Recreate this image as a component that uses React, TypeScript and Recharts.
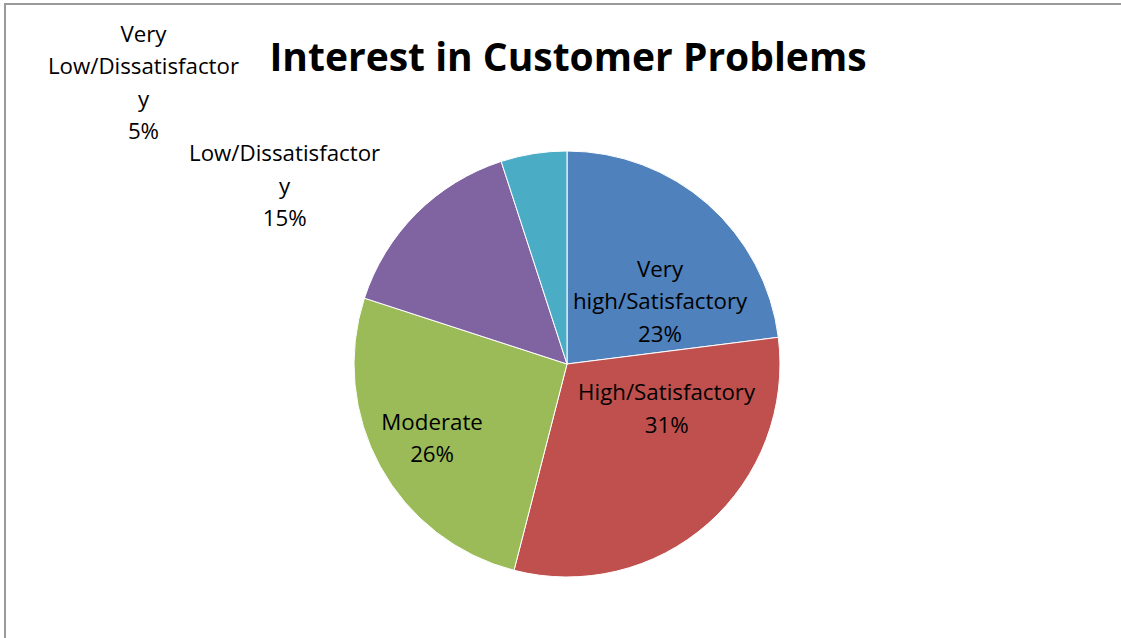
import { PieChart, Pie, Cell } from "recharts";

const categories = [
  "Very high/Satisfactory",
  "High/Satisfactory",
  "Moderate",
  "Low/Dissatisfactory",
  "Very Low/Dissatisfactory",
];
const shares = [23, 31, 26, 15, 5];
const colors = ["#4F81BD", "#C0504D", "#9BBB59", "#8064A2", "#4BACC6"];

// line breaks as the original label boxes wrapped them
const labelLines = [
  ["Very", "high/Satisfactory"],
  ["High/Satisfactory"],
  ["Moderate"],
  ["Low/Dissatisfactor", "y"],
  ["Very", "Low/Dissatisfactor", "y"],
];
// label placement: angle in degrees, distance as a share of the radius
const labelSpots = [
  [34.5, 0.53],
  [-23.5, 0.51],
  [-151.6, 0.72],
  [147.6, 1.57],
  [146.3, 2.39],
];

const data = categories.map((name, i) => ({ name, value: shares[i] }));

const FONT = "'Open Sans', 'Noto Sans', sans-serif";

const renderLabel = (props: any) => {
  const { cx, cy, outerRadius, index } = props;
  const [ang, k] = labelSpots[index];
  const rad = (ang * Math.PI) / 180;
  const x = cx + outerRadius * k * Math.cos(rad);
  const y = cy - outerRadius * k * Math.sin(rad);
  const lines = [...labelLines[index], `${shares[index]}%`];
  const lh = 32.5;
  const top = y - ((lines.length - 1) * lh) / 2;
  return (
    <text
      x={x}
      y={top}
      textAnchor="middle"
      dominantBaseline="central"
      fontSize={22.3}
      fill="#000"
      fontFamily={FONT}
    >
      {lines.map((l, i) => (
        <tspan key={i} x={x} y={top + i * lh}>
          {l}
        </tspan>
      ))}
    </text>
  );
};

export default function App() {
  return (
    <div
      style={{
        position: "absolute",
        left: 0,
        top: 0,
        width: 1121,
        height: 638,
        background: "#fff",
        overflow: "hidden",
      }}
    >
      <div
        style={{
          position: "absolute",
          left: 4,
          top: 3,
          width: 1200,
          height: 700,
          borderLeft: "2px solid #9a9a9a",
          borderTop: "2px solid #9a9a9a",
        }}
      />
      <div
        style={{
          position: "absolute",
          left: 0,
          width: 1136,
          top: 30,
          textAlign: "center",
          fontFamily: FONT,
          fontWeight: 700,
          fontSize: 39,
          lineHeight: "52px",
          color: "#000",
        }}
      >
        Interest in Customer Problems
      </div>
      <div style={{ position: "absolute", left: 0, top: 0 }}>
        <PieChart width={1121} height={638} margin={{ top: 0, right: 0, bottom: 0, left: 0 }}>
          <Pie
            data={data}
            dataKey="value"
            nameKey="name"
            cx={567}
            cy={364}
            outerRadius={213}
            startAngle={90}
            endAngle={-270}
            stroke="#ffffff"
            strokeWidth={1}
            label={renderLabel}
            labelLine={false}
            isAnimationActive={false}
          >
            {data.map((d, i) => (
              <Cell key={d.name} fill={colors[i]} />
            ))}
          </Pie>
        </PieChart>
      </div>
    </div>
  );
}
